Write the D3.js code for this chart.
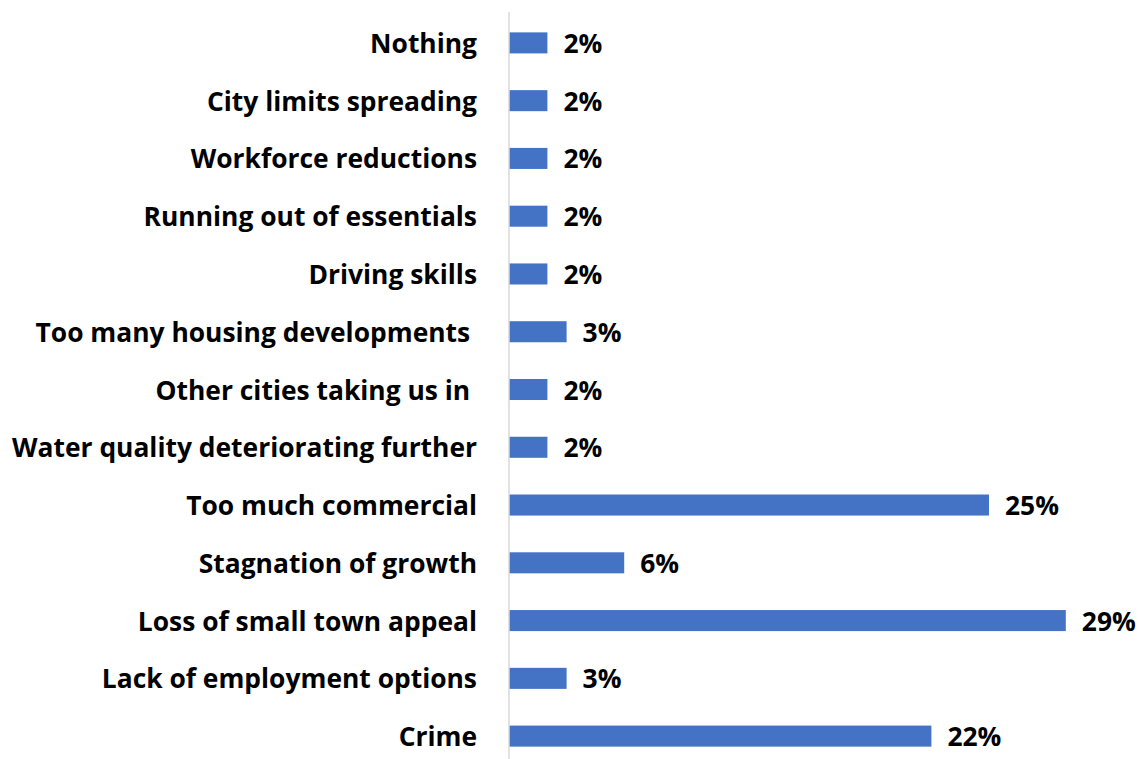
<!DOCTYPE html>
<html>
<head>
<meta charset="utf-8">
<script src="https://cdn.jsdelivr.net/npm/d3@7"></script>
<style>
  html, body { margin: 0; padding: 0; background: #fff; }
  svg text { font-family: "Open Sans", Lato, sans-serif; font-weight: 700; white-space: pre; }
</style>
</head>
<body>
<svg id="chart" width="1138" height="759"></svg>
<script>
// Survey responses, listed top to bottom
const categories = [
  "Nothing",
  "City limits spreading",
  "Workforce reductions",
  "Running out of essentials",
  "Driving skills",
  "Too many housing developments ",
  "Other cities taking us in ",
  "Water quality deteriorating further",
  "Too much commercial",
  "Stagnation of growth",
  "Loss of small town appeal",
  "Lack of employment options",
  "Crime"
];
const values = [2, 2, 2, 2, 2, 3, 2, 2, 25, 6, 29, 3, 22];

const svg = d3.select("#chart");
const axisX = 509;

const x = d3.scaleLinear().domain([0, 30]).range([axisX, axisX + 576]);
const y = d3.scaleBand()
  .domain(categories)
  .range([14, 765])
  .paddingInner(0.636)
  .paddingOuter(0.318);

// Bars
svg.append("g").selectAll("rect")
  .data(categories)
  .join("rect")
  .attr("x", x(0))
  .attr("y", d => y(d))
  .attr("width", (d, i) => x(values[i]) - x(0))
  .attr("height", y.bandwidth())
  .attr("fill", "#4472c4");

// Category axis line
svg.append("line")
  .attr("x1", axisX).attr("x2", axisX)
  .attr("y1", 12).attr("y2", 759)
  .attr("stroke", "#d9d9d9")
  .attr("stroke-width", 1.5);

// Category labels
svg.append("g").selectAll("text")
  .data(categories)
  .join("text")
  .attr("x", 477)
  .attr("y", d => y(d) + y.bandwidth() / 2)
  .attr("text-anchor", "end")
  .attr("dominant-baseline", "central")
  .attr("font-size", 26.4)
  .attr("fill", "#000")
  .text(d => d);

// Value labels
svg.append("g").selectAll("text")
  .data(categories)
  .join("text")
  .attr("x", (d, i) => x(values[i]) + 16)
  .attr("y", d => y(d) + y.bandwidth() / 2)
  .attr("dominant-baseline", "central")
  .attr("font-size", 26.4)
  .attr("fill", "#000")
  .text((d, i) => values[i] + "%");
</script>
</body>
</html>
